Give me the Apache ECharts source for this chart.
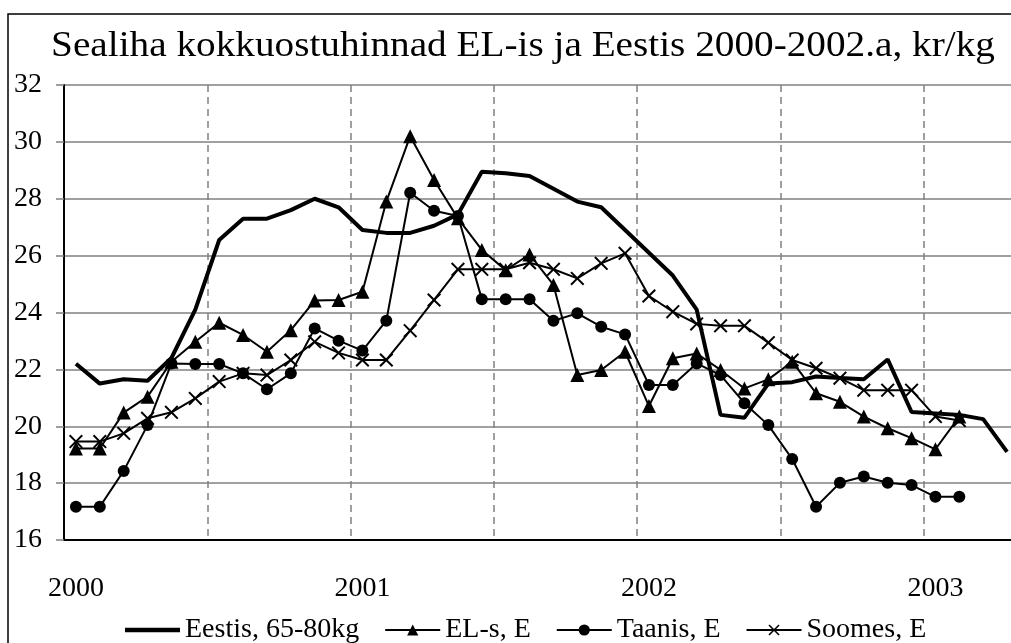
<!DOCTYPE html>
<html>
<head>
<meta charset="utf-8">
<script src="https://cdn.jsdelivr.net/npm/echarts@6/dist/echarts.min.js"></script>
<style>
  html, body { margin: 0; padding: 0; background: #fff; overflow: hidden; }
  #chart { width: 1040px; height: 643px; }
</style>
</head>
<body>
<div id="chart"></div>
<script>
var months = [
  '2000-01','2000-02','2000-03','2000-04','2000-05','2000-06','2000-07','2000-08','2000-09','2000-10','2000-11','2000-12',
  '2001-01','2001-02','2001-03','2001-04','2001-05','2001-06','2001-07','2001-08','2001-09','2001-10','2001-11','2001-12',
  '2002-01','2002-02','2002-03','2002-04','2002-05','2002-06','2002-07','2002-08','2002-09','2002-10','2002-11','2002-12',
  '2003-01','2003-02','2003-03','2003-04'
];

var eestis = [22.2, 21.5, 21.65, 21.6, 22.4, 24.1, 26.55, 27.3, 27.3, 27.6, 28.0, 27.7,
  26.9, 26.8, 26.8, 27.05, 27.45, 28.95, 28.9, 28.8, 28.35, 27.9, 27.7, 26.9,
  26.1, 25.3, 24.1, 20.4, 20.3, 21.5, 21.55, 21.75, 21.7, 21.65, 22.35, 20.5,
  20.45, 20.4, 20.25, 19.1];

var els = [19.22, 19.22, 20.48, 21.04, 22.27, 22.97, 23.64, 23.21, 22.62, 23.38, 24.42, 24.44,
  24.73, 27.9, 30.2, 28.66, 27.31, 26.2, 25.49, 26.04, 24.97, 21.8, 21.98, 22.62,
  20.71, 22.39, 22.56, 21.98, 21.33, 21.65, 22.27, 21.16, 20.86, 20.34, 19.93, 19.58,
  19.19, 20.34];

var taanis = [17.17, 17.17, 18.43, 20.04, 22.21, 22.19, 22.19, 21.86, 21.3, 21.86, 23.44, 23.01,
  22.66, 23.71, 28.21, 27.58, 27.39, 24.47, 24.47, 24.47, 23.71, 23.97, 23.5, 23.23,
  21.45, 21.45, 22.21, 21.8, 20.81, 20.04, 18.85, 17.17, 18.01, 18.23, 18.01, 17.93,
  17.52, 17.52];

var soomes = [19.46, 19.46, 19.75, 20.28, 20.49, 20.98, 21.57, 21.86, 21.8, 22.33, 22.97, 22.58,
  22.33, 22.33, 23.36, 24.44, 25.52, 25.52, 25.52, 25.75, 25.52, 25.2, 25.73, 26.08,
  24.58, 24.03, 23.6, 23.53, 23.53, 22.94, 22.33, 22.04, 21.69, 21.27, 21.27, 21.27,
  20.34, 20.2];

var FONT = 'Liberation Serif';
var crossPath = 'path://M0,1L1,0L5,4L9,0L10,1L6,5L10,9L9,10L5,6L1,10L0,9L4,5Z';
var thickLine = 'path://M0,0H55V4.5H0Z';

var chart = echarts.init(document.getElementById('chart'));

var option = {
  animation: false,
  backgroundColor: '#fff',
  legend: {
    left: 120,
    top: 611,
    itemWidth: 55,
    itemHeight: 14,
    itemGap: 25,
    textStyle: { fontFamily: FONT, fontSize: 28, color: '#000' },
    data: [
      { name: 'Eestis, 65-80kg', icon: thickLine },
      'EL-s, E', 'Taanis, E', 'Soomes, E'
    ]
  },
  grid: { left: 64, top: 85, bottom: 103, right: 21 },
  xAxis: {
    type: 'category',
    data: months,
    boundaryGap: true,
    axisLine: { lineStyle: { color: '#000', width: 2 } },
    axisTick: { interval: function (i) { return i % 6 === 0; }, length: 8, lineStyle: { color: '#808080', width: 1.5 } },
    splitLine: { show: true, interval: function (i) { return i % 6 === 0; }, lineStyle: { color: '#808080', width: 1.5, type: [7, 5] } },
    axisLabel: {
      interval: function (i) { return i % 12 === 0; },
      formatter: function (v) { return v.slice(0, 4); },
      margin: 35,
      fontFamily: FONT, fontSize: 28, color: '#000'
    }
  },
  yAxis: {
    type: 'value',
    min: 16, max: 32, interval: 2,
    axisLine: { show: true, lineStyle: { color: '#000', width: 2 } },
    axisTick: { show: true, length: 8, lineStyle: { color: '#808080', width: 1.5 } },
    splitLine: { lineStyle: { color: '#808080', width: 1.5 } },
    axisLabel: { margin: 22, fontFamily: FONT, fontSize: 28, color: '#000' }
  },
  graphic: [
    {
      type: 'rect',
      shape: { x: 8, y: 14, width: 1040, height: 650 },
      style: { fill: 'none', stroke: '#000', lineWidth: 1.5 },
      z: 100
    },
    {
      // title, stretched a little sideways like the original
      type: 'text',
      x: 523, y: 47,
      scaleX: 1.09,
      style: {
        text: 'Sealiha kokkuostuhinnad EL-is ja Eestis 2000-2002.a, kr/kg',
        align: 'center', verticalAlign: 'middle',
        font: '36px "Liberation Serif"', fill: '#000'
      },
      z: 100
    }
  ],
  series: [
    {
      name: 'Eestis, 65-80kg', type: 'line', data: eestis,
      symbol: 'none', z: 5,
      lineStyle: { color: '#000', width: 4 },
      itemStyle: { color: '#000' }
    },
    {
      name: 'EL-s, E', type: 'line', data: els,
      symbol: 'triangle', symbolSize: 14,
      lineStyle: { color: '#000', width: 2 },
      itemStyle: { color: '#000' }
    },
    {
      name: 'Taanis, E', type: 'line', data: taanis,
      symbol: 'circle', symbolSize: 12,
      lineStyle: { color: '#000', width: 2 },
      itemStyle: { color: '#000' }
    },
    {
      name: 'Soomes, E', type: 'line', data: soomes,
      symbol: crossPath, symbolSize: 14,
      lineStyle: { color: '#000', width: 2 },
      itemStyle: { color: '#000' }
    }
  ]
};

chart.setOption(option);
</script>
</body>
</html>
